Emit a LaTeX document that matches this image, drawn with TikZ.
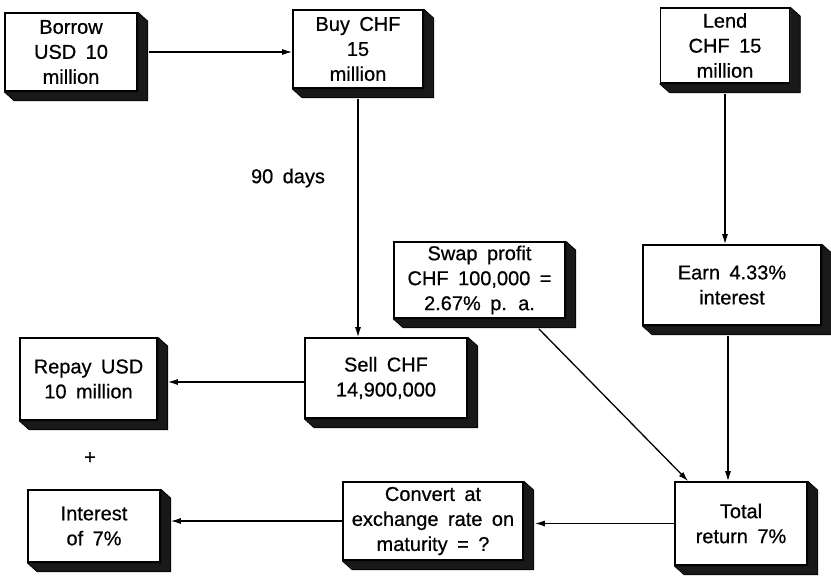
\documentclass[tikz,border=0pt]{standalone}
\usepackage{fontspec}
\setmainfont{Liberation Sans}[WordSpace=1.7,FakeBold=0.6]
\usetikzlibrary{arrows.meta,calc}
\newcommand\extr[1]{\filldraw[shd] (#1.north east) -- ($(#1.north east)+(10,9)$) -- ($(#1.south east)+(10,9)$) -- ($(#1.south west)+(10,9)$) -- (#1.south west) -- (#1.south east) -- cycle;}
\begin{document}
\begin{tikzpicture}[x=1pt,y=-1pt,
  bx/.style={draw=black, line width=1.6pt, fill=white, align=center, inner sep=0pt, font=\fontsize{20}{25}\selectfont},
  lbl/.style={font=\fontsize{20}{25}\selectfont, inner sep=0pt},
  conn/.style={line width=1.3pt, -{Latex[length=10pt,width=6pt]}},
  shd/.style={fill=black!90, draw=black, line width=0.8pt, line join=round}]
\useasboundingbox[fill=white] (0,0) rectangle (831,578);
\node[bx, minimum width=132pt, minimum height=78pt] (borrow) at (71,52) {Borrow\\USD 10\\million};
\node[bx, minimum width=130pt, minimum height=78pt] (buy) at (358,49) {Buy CHF\\15\\million};
\node[bx, minimum width=129pt, minimum height=75pt] (lend) at (725,45.5) {Lend\\CHF 15\\million};
\node[bx, minimum width=171pt, minimum height=76pt] (swap) at (479.5,280) {Swap profit\\CHF 100,000 =\\2.67\% p. a.};
\node[bx, minimum width=178pt, minimum height=80pt] (earn) at (732,285) {Earn 4.33\%\\interest};
\node[bx, minimum width=137pt, minimum height=82pt] (repay) at (88.5,379) {Repay USD\\10 million};
\node[bx, minimum width=162pt, minimum height=80pt] (sell) at (386,378) {Sell CHF\\14,900,000};
\node[bx, minimum width=132pt, minimum height=72pt] (interest) at (94,526) {Interest\\of 7\%};
\node[bx, minimum width=180pt, minimum height=78pt] (convert) at (433,521) {Convert at\\exchange rate on\\maturity = ?};
\node[bx, minimum width=132pt, minimum height=83pt] (total) at (741,523.5) {Total\\return 7\%};
\foreach \n in {borrow,buy,lend,swap,earn,repay,sell,interest,convert,total}{\extr{\n}}
\node[lbl] (days) at (288,178) {90 days};
\node[lbl] (plus) at (90,458) {+};
\draw[conn] ($(borrow.east)+(11,0)$) -- (borrow.east -| buy.west);
\draw[conn] ($(buy.south)+(0,10)$) -- (buy.south |- sell.north);
\draw[conn] ($(lend.south)+(0,10)$) -- (lend.south |- earn.north);
\draw[conn] ($(earn.south)+(-4,10)$) -- ($(earn.south |- total.north)+(-4,0)$);
\draw[conn] ($(swap.south east)+(-27,10)$) -- ($(total.north west)+(14,0)$);
\draw[conn] ($(sell.west)+(0,4)$) -- ($(sell.west -| repay.east)+(10,4)$);
\draw[conn] (total.west) -- ($(total.west -| convert.east)+(11,0)$);
\draw[conn] (convert.west) -- ($(convert.west -| interest.east)+(10,0)$);
\end{tikzpicture}
\end{document}
